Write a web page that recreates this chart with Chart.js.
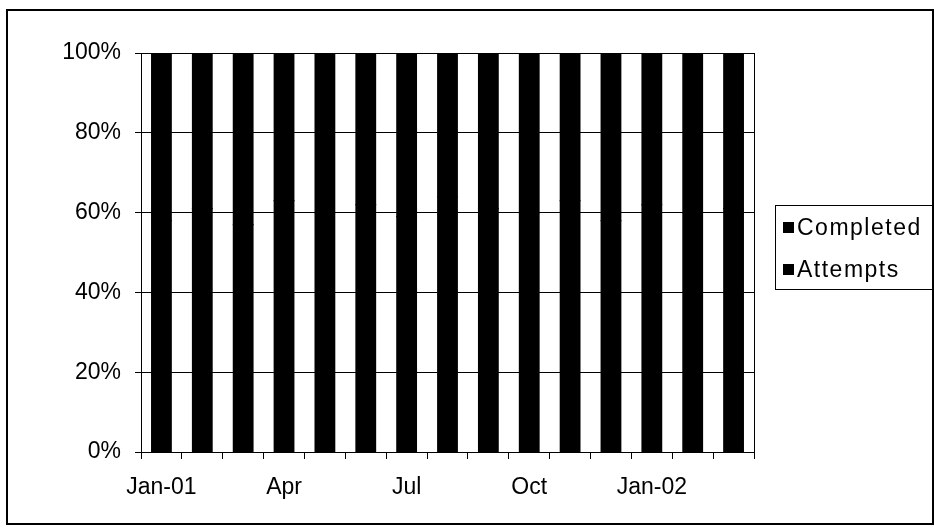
<!DOCTYPE html>
<html>
<head>
<meta charset="utf-8">
<script src="https://cdn.jsdelivr.net/npm/chart.js@4/dist/chart.umd.min.js"></script>
<style>
  html, body { margin: 0; padding: 0; background: #fff; }
  #wrap { width: 934px; height: 529px; }
</style>
</head>
<body>
<div id="wrap"><canvas id="chart" width="934" height="529"></canvas></div>
<script>
// Monthly categories, January 2001 through March 2002
const months = ['Jan-01', 'Feb', 'Mar', 'Apr', 'May', 'Jun', 'Jul', 'Aug',
                'Sep', 'Oct', 'Nov', 'Dec', 'Jan-02', 'Feb', 'Mar'];

// Share of each month (percent, the two series stack to 100%)
const completed = [58, 61, 57, 63, 60, 62, 59, 64, 61, 60, 63, 58, 62, 60, 61];
const attempts  = [42, 39, 43, 37, 40, 38, 41, 36, 39, 40, 37, 42, 38, 40, 39];

const seriesNames = ['Completed', 'Attempts'];
const yTicks = [0, 20, 40, 60, 80, 100];

const FONT = '"Liberation Sans", Arial, sans-serif';

// Frame around the plot area, the legend box and the outer border
const decorations = {
  id: 'decorations',
  afterDraw(chart) {
    const ctx = chart.ctx;
    const a = chart.chartArea;
    ctx.save();
    ctx.strokeStyle = '#000';
    ctx.lineWidth = 1;
    ctx.strokeRect(Math.round(a.left) + 0.5, Math.round(a.top) + 0.5,
                   Math.round(a.right - a.left), Math.round(a.bottom - a.top));

    // outer border
    ctx.lineWidth = 2;
    ctx.strokeRect(7, 10, 926, 514);

    // legend
    ctx.lineWidth = 1;
    ctx.strokeRect(775.5, 205.5, 157, 84);
    ctx.font = '23px ' + FONT;
    ctx.letterSpacing = '1.5px';
    ctx.textBaseline = 'middle';
    ctx.textAlign = 'left';
    chart.data.datasets.forEach((ds, i) => {
      const y = 228 + i * 42;
      ctx.fillStyle = ds.backgroundColor;
      ctx.fillRect(783, y - 6, 11, 11);
      ctx.fillStyle = '#000';
      ctx.fillText(ds.label, 797, y + 1);
    });
    ctx.restore();
  }
};

new Chart(document.getElementById('chart'), {
  type: 'bar',
  data: {
    labels: months,
    datasets: [
      { label: seriesNames[0], data: completed, backgroundColor: '#000', borderWidth: 0, inflateAmount: 0.6 },
      { label: seriesNames[1], data: attempts,  backgroundColor: '#000', borderWidth: 0, inflateAmount: 0.6 }
    ]
  },
  options: {
    responsive: false,
    animation: false,
    devicePixelRatio: 1,
    layout: { padding: { left: 0, top: 53, right: 180, bottom: 0 } },
    datasets: { bar: { categoryPercentage: 1.0, barPercentage: 0.48 } },
    plugins: { legend: { display: false }, tooltip: { enabled: false } },
    scales: {
      x: {
        stacked: true,
        offset: true,
        grid: { display: true, drawOnChartArea: false, drawTicks: true, tickLength: 7,
                color: '#000', lineWidth: 1, offset: true },
        border: { display: true, color: '#000', width: 1 },
        ticks: {
          autoSkip: false, maxRotation: 0, minRotation: 0, padding: 15,
          color: '#000', font: { family: FONT, size: 23 },
          callback: (v, i) => (i % 3 === 0 ? months[i] : '')
        },
        afterFit(scale) { scale.height = 77; }
      },
      y: {
        stacked: true,
        min: 0, max: 100,
        afterBuildTicks(scale) { scale.ticks = yTicks.map(v => ({ value: v })); },
        grid: { color: '#000', lineWidth: 1, drawTicks: true, tickLength: 6 },
        border: { display: true, color: '#000', width: 1 },
        ticks: {
          padding: 14, color: '#000', font: { family: FONT, size: 23 },
          callback: v => v + '%'
        },
        afterFit(scale) { scale.width = 141; }
      }
    }
  },
  plugins: [decorations]
});
</script>
</body>
</html>
